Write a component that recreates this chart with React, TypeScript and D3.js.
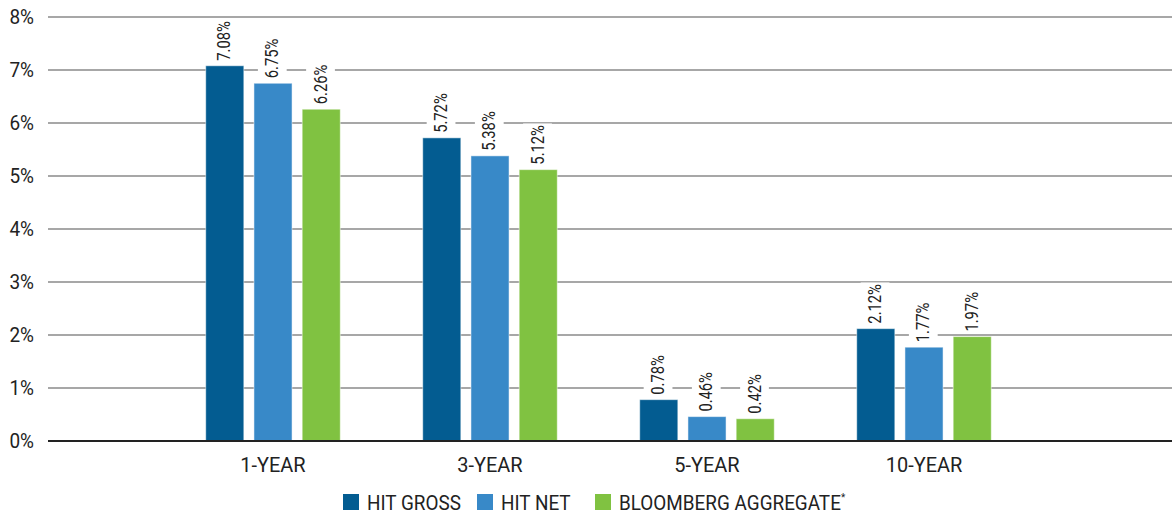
import { useRef, useEffect } from 'react';
import * as d3 from 'd3';

const categories = ['1-YEAR', '3-YEAR', '5-YEAR', '10-YEAR'];
const seriesNames = ['HIT GROSS', 'HIT NET', 'BLOOMBERG AGGREGATE'];
const hitGross = [7.08, 5.72, 0.78, 2.12];
const hitNet = [6.75, 5.38, 0.46, 1.77];
const bloomberg = [6.26, 5.12, 0.42, 1.97];
const yTicks = [0, 1, 2, 3, 4, 5, 6, 7, 8];
const colors = ['#035c91', '#3889c8', '#80c241'];

export default function App() {
  const svgRef = useRef<SVGSVGElement>(null);

  useEffect(() => {
    document.body.style.margin = '0';
    if (!svgRef.current) return;
    const width = 1172;
    const height = 514;
    const font = 'Roboto, "Liberation Sans", sans-serif';

    const svg = d3.select(svgRef.current).attr('width', width).attr('height', height);
    svg.selectAll('*').remove();

    const values = [hitGross, hitNet, bloomberg];

    const y = d3.scaleLinear().domain([0, 8]).range([441, 17]);
    const x0 = d3.scaleBand<string>()
      .domain(categories)
      .range([164.5, 1032.5])
      .paddingInner(0.38)
      .paddingOuter(0.19);
    const x1 = d3.scaleBand<string>()
      .domain(seriesNames)
      .range([0, x0.bandwidth()])
      .paddingInner(0.21)
      .paddingOuter(0);

    // grid lines
    svg.append('g')
      .selectAll('line')
      .data(yTicks.filter(t => t > 0))
      .join('line')
      .attr('x1', 48)
      .attr('x2', width)
      .attr('y1', d => y(d))
      .attr('y2', d => y(d))
      .attr('stroke', '#8a8a8a')
      .attr('stroke-width', 1.5);

    // y tick labels
    svg.append('g')
      .selectAll('text')
      .data(yTicks)
      .join('text')
      .attr('transform', d => `translate(34,${y(d)}) scale(0.95,1)`)
      .attr('dy', '0.36em')
      .attr('text-anchor', 'end')
      .attr('font-family', font)
      .attr('font-size', 20)
      .attr('fill', '#222')
      .text(d => `${d}%`);

    // bars
    const groups = svg.append('g')
      .selectAll('g')
      .data(categories)
      .join('g')
      .attr('transform', d => `translate(${x0(d)},0)`);

    groups.each(function (cat, ci) {
      const g = d3.select(this);
      seriesNames.forEach((s, si) => {
        const v = values[si][ci];
        const bx = x1(s)!;
        g.append('rect')
          .attr('x', bx)
          .attr('y', y(v))
          .attr('width', x1.bandwidth())
          .attr('height', y(0) - y(v))
          .attr('fill', colors[si])
          .attr('stroke', '#ffffff')
          .attr('stroke-opacity', 0.5)
          .attr('stroke-width', 1);

        const cx = bx + x1.bandwidth() / 2 - 1;
        const label = `${v.toFixed(2)}%`;
        const lg = g.append('g')
          .attr('transform', `translate(${cx},${y(v) - 5}) rotate(-90) scale(0.82,1)`);
        const txt = lg.append('text')
          .attr('x', 0)
          .attr('y', 0)
          .attr('dy', '0.35em')
          .attr('text-anchor', 'start')
          .attr('font-family', font)
          .attr('font-size', 18)
          .attr('fill', '#222')
          .text(label);
        const bb = (txt.node() as SVGTextElement).getBBox();
        lg.insert('rect', 'text')
          .attr('x', bb.x - 2)
          .attr('y', bb.y - 4)
          .attr('width', bb.width + 4)
          .attr('height', bb.height + 8)
          .attr('fill', '#fff');
      });
    });

    // zero baseline
    svg.append('line')
      .attr('x1', 48)
      .attr('x2', width)
      .attr('y1', y(0))
      .attr('y2', y(0))
      .attr('stroke', '#222')
      .attr('stroke-width', 2);

    // category labels
    svg.append('g')
      .selectAll('text')
      .data(categories)
      .join('text')
      .attr('transform', d => `translate(${x0(d)! + x0.bandwidth() / 2},472) scale(0.95,1)`)
      .attr('text-anchor', 'middle')
      .attr('font-family', font)
      .attr('font-size', 21)
      .attr('fill', '#222')
      .text(d => d);

    // legend
    const legendX = [343, 477, 595];
    const legend = svg.append('g');
    seriesNames.forEach((s, i) => {
      legend.append('rect')
        .attr('x', legendX[i])
        .attr('y', 494)
        .attr('width', 16)
        .attr('height', 16)
        .attr('fill', colors[i]);
      const t = legend.append('text')
        .attr('transform', `translate(${legendX[i] + 24},510) scale(0.9,1)`)
        .attr('font-family', font)
        .attr('font-size', 21)
        .attr('fill', '#222')
        .text(s);
      if (i === 2) {
        t.append('tspan').attr('font-size', 11).attr('dy', -9).text('*');
      }
    });
  }, []);

  return <svg ref={svgRef} style={{ display: 'block' }}></svg>;
}
